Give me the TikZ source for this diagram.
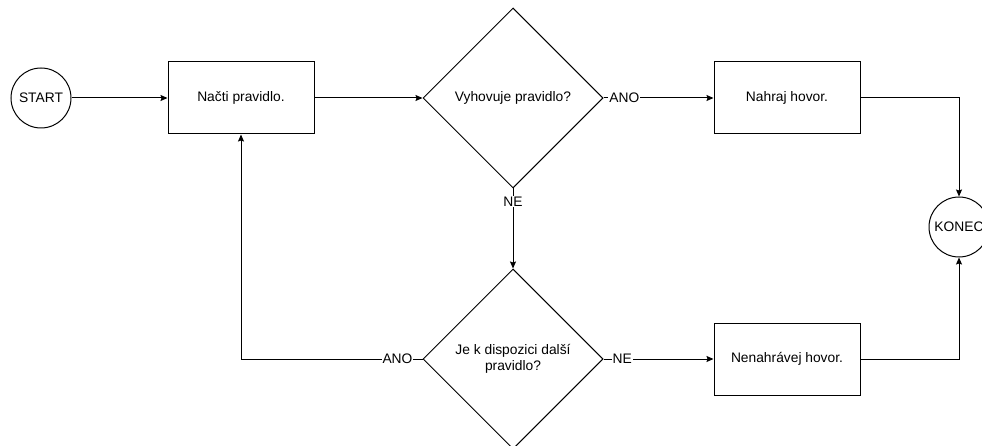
\documentclass[tikz,border=0pt]{standalone}
\usepackage{fontspec}
\setmainfont{Liberation Sans}
\usetikzlibrary{arrows,arrows.meta,shapes.geometric,positioning}
\tikzstyle{arrow} = [-{Stealth[length=7pt,width=6pt,inset=1pt]}]
\tikzstyle{terminal} = [circle, draw, minimum size=60pt, inner sep=0pt]
\tikzstyle{process} = [rectangle, draw, minimum width=146pt, minimum height=72pt]
\tikzstyle{decision} = [diamond, draw, minimum width=180pt, minimum height=180pt, inner sep=0pt, align=center]
\tikzstyle{answer} = [fill=white, inner sep=1pt]

\begin{document}
\begin{tikzpicture}[x=1pt, y=-1pt, line width=1pt, font=\fontsize{13.8}{16}\selectfont]
  \useasboundingbox (0,0) rectangle (982,446);

  % Top row
  \node [terminal] (start) at (41,98) {START};
  \node [process, right=96pt of start] (load) {Načti pravidlo.};
  \node [decision, right=108pt of load] (match) {Vyhovuje pravidlo?};
  \node [process, right=110pt of match] (record) {Nahraj hovor.};

  % Bottom row
  \node [decision, below=80pt of match] (more) {Je k dispozici další\\pravidlo?};
  \node [process, right=110pt of more] (skip) {Nenahrávej hovor.};

  % End node
  \node [terminal] (stop) at (959,227) {KONEC};

  \draw [arrow] (start) -- (load);
  \draw [arrow] (load) -- (match);
  \draw [arrow] (match.east) -- node [answer, pos=0.19] {ANO} (record.west);
  \draw [arrow] (match.south) -- node [answer, pos=0.16] {NE} (more.north);
  \draw [arrow] (more.west) -| node [answer, pos=0.069] {ANO} (load.south);
  \draw [arrow] (more.east) -- node [answer, pos=0.17] {NE} (skip.west);
  \draw [arrow] (record.east) -| (stop.north);
  \draw [arrow] (skip.east) -| (stop.south);
\end{tikzpicture}
\end{document}
